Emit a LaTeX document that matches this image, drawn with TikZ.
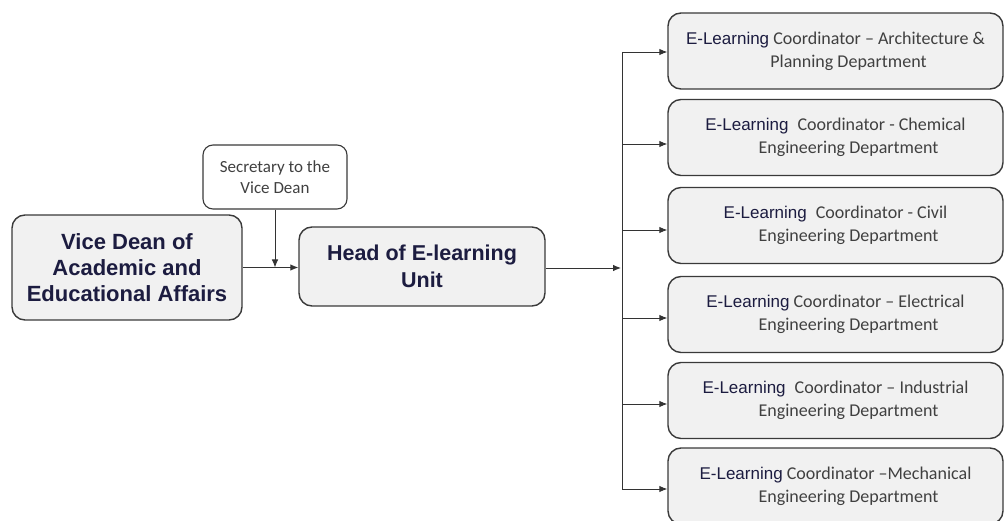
\documentclass[tikz,border=0pt]{standalone}
\usepackage{fontspec}
\setmainfont{Liberation Sans}
\newfontfamily\carlitofont{Carlito}
\newfontfamily\arialfont{Liberation Sans}
\usetikzlibrary{arrows.meta}
\definecolor{boxfill}{HTML}{F1F1F1}
\definecolor{boxline}{HTML}{3A3A3A}
\definecolor{navy}{HTML}{1C1C40}
\definecolor{graytxt}{HTML}{404040}
\begin{document}
\begin{tikzpicture}[x=1pt,y=-1pt,
  box/.style={draw=boxline,line width=1.4pt,fill=boxfill,rounded corners=13pt,align=center,inner sep=0pt},
  bigbox/.style={box,font=\arialfont\bfseries\fontsize{22}{26}\selectfont,text=navy},
  coordbox/.style={box,minimum width=335pt,minimum height=76pt,font=\carlitofont\fontsize{18}{23}\selectfont,text=graytxt},
  secbox/.style={draw=boxline,line width=1.1pt,fill=white,rounded corners=10pt,align=center,inner sep=0pt,minimum width=144pt,minimum height=64pt,font=\carlitofont\fontsize{17}{21}\selectfont,text=graytxt},
  conn/.style={draw=black!80,line width=0.9pt},
  arr/.style={conn,-{Latex[length=8pt,width=6.5pt]}}]
\useasboundingbox (0,0) rectangle (1004,521);
\clip (0,0) rectangle (1004,521);
\newcommand{\EL}{{\arialfont\color{navy}\fontsize{17}{23}\selectfont E-Learning}}
\newcommand{\sh}{\hspace*{26pt}}
\node[bigbox,minimum width=230pt,minimum height=105pt] (vd) at (127,267.5) {Vice Dean of\\Academic and\\Educational Affairs};
\node[secbox] (sec) at (275,177) {Secretary to the\\Vice Dean};
\node[bigbox,minimum width=246pt,minimum height=79pt,font=\arialfont\bfseries\fontsize{21.5}{27}\selectfont] (head) at (422,266.5) {Head of E-learning\\Unit};
\node[coordbox] (c1) at (835.5,51) {\EL{} Coordinator – Architecture \&\\\sh Planning Department};
\node[coordbox] (c2) at (835.5,137.5) {\EL{}\enspace Coordinator - Chemical\\\sh Engineering Department};
\node[coordbox] (c3) at (835.5,225.5) {\EL{}\enspace Coordinator - Civil\\\sh Engineering Department};
\node[coordbox] (c4) at (835.5,314.5) {\EL{} Coordinator – Electrical\\\sh Engineering Department};
\node[coordbox] (c5) at (835.5,400.5) {\EL{}\enspace Coordinator – Industrial\\\sh Engineering Department};
\node[coordbox] (c6) at (835.5,486) {\EL{} Coordinator –Mechanical\\\sh Engineering Department};
\coordinate (j) at (275,267.5);
\coordinate (t) at (621,268);
\coordinate (ttop) at (622,52);
\coordinate (tbot) at (622,489);
\draw[arr] (vd.east |- j) -- (head.west |- j);
\draw[arr] (sec.south) -- (j);
\draw[arr] (head.east |- t) -- (t);
\draw[conn] (ttop) -- (tbot);
\draw[arr] (ttop) -- (c1.west |- ttop);
\draw[arr] (622,144) -- (c2.west |- 0,144);
\draw[arr] (622,230) -- (c3.west |- 0,230);
\draw[arr] (622,318) -- (c4.west |- 0,318);
\draw[arr] (622,404) -- (c5.west |- 0,404);
\draw[arr] (tbot) -- (c6.west |- tbot);
\end{tikzpicture}
\end{document}
